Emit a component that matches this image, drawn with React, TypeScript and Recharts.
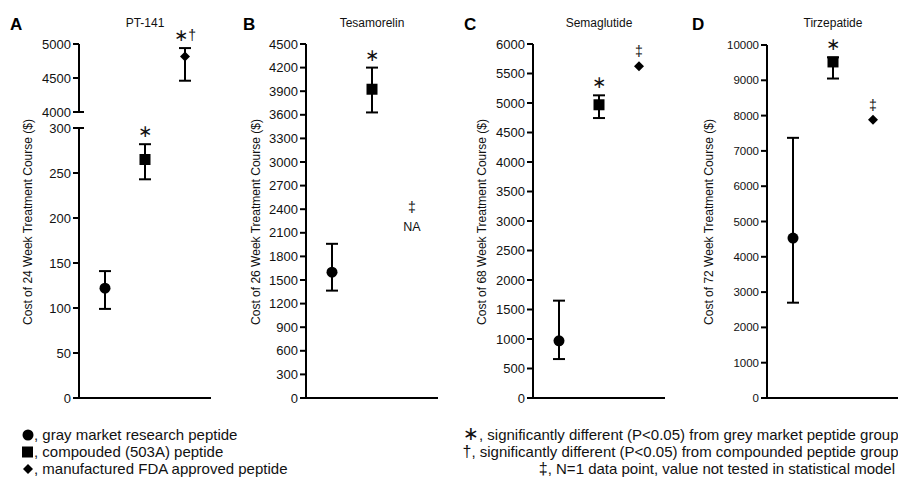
import React from "react";
import { ComposedChart, Scatter, ErrorBar, XAxis, YAxis } from "recharts";

// group positions on the x scale: gray market, compounded (503A), FDA approved
const groupX = [1, 2, 3];

// PT-141, 24 week course ($)
const ptMean = [122, 265, 4815];
const ptLow = [99, 243, 4460];
const ptHigh = [141, 282, 4940];
const ptNotes = ["", "∗", "∗†"];

// Tesamorelin, 26 week course ($) - no FDA product tested
const tesaMean = [1600, 3925, null];
const tesaLow = [1365, 3630, null];
const tesaHigh = [1960, 4200, null];
const tesaNotes = ["", "∗", "‡"];
const tesaNaLevel = 2300;

// Semaglutide, 68 week course ($)
const semaMean = [970, 4970, 5625];
const semaLow = [660, 4745, null];
const semaHigh = [1650, 5130, null];
const semaNotes = ["", "∗", "‡"];

// Tirzepatide, 72 week course ($)
const tirzMean = [4530, 9520, 7885];
const tirzLow = [2700, 9050, null];
const tirzHigh = [7370, 9650, null];
const tirzNotes = ["", "∗", "‡"];

const ptLowerTicks = [0, 50, 100, 150, 200, 250, 300];
const ptUpperTicks = [4000, 4500, 5000];
const tesaTicks = [0, 300, 600, 900, 1200, 1500, 1800, 2100, 2400, 2700, 3000, 3300, 3600, 3900, 4200, 4500];
const semaTicks = [0, 500, 1000, 1500, 2000, 2500, 3000, 3500, 4000, 4500, 5000, 5500, 6000];
const tirzTicks = [0, 1000, 2000, 3000, 4000, 5000, 6000, 7000, 8000, 9000, 10000];

function buildRows(mean: any[], low: any[], high: any[], notes: string[], naLevel?: number) {
  return groupX.map((x, i) => {
    const m = mean[i];
    const hasErr = m != null && low[i] != null && high[i] != null;
    return {
      x,
      group: i,
      mean: m,
      err: hasErr ? [m - low[i], high[i] - m] : null,
      anchor: m == null ? naLevel : hasErr ? high[i] : m,
      hasErr,
      note: notes[i],
      sub: m == null ? "NA" : "",
    };
  });
}

const ptRows = buildRows(ptMean, ptLow, ptHigh, ptNotes);
const tesaRows = buildRows(tesaMean, tesaLow, tesaHigh, tesaNotes, tesaNaLevel);
const semaRows = buildRows(semaMean, semaLow, semaHigh, semaNotes);
const tirzRows = buildRows(tirzMean, tirzLow, tirzHigh, tirzNotes);

const INK = "#000";
const TEXT = "#111";
const STAR_FONT = '"DejaVu Sans", sans-serif';

function Marker(props: any) {
  const { cx, cy, payload } = props;
  if (payload.group === 0) return <circle cx={cx} cy={cy} r={5.5} fill={INK} />;
  if (payload.group === 1) return <rect x={cx - 5.5} y={cy - 5.5} width={11} height={11} fill={INK} />;
  return (
    <polygon
      points={`${cx},${cy - 5} ${cx + 5},${cy} ${cx},${cy + 5} ${cx - 5},${cy}`}
      fill={INK}
    />
  );
}

function Star({ size }: { size: number }) {
  return (
    <tspan fontSize={size} fontFamily={STAR_FONT} style={{ fill: TEXT }}>
      ∗
    </tspan>
  );
}

function NoteText({ x, y, text }: { x: number; y: number; text: string }) {
  return (
    <text x={x} y={y} textAnchor="middle" dominantBaseline="central" style={{ fill: TEXT }}>
      {text.split("").map((ch, i) =>
        ch === "∗" ? (
          <Star key={i} size={17} />
        ) : (
          <tspan key={i} fontSize={14} style={{ fill: TEXT }}>
            {ch}
          </tspan>
        )
      )}
    </text>
  );
}

function Note(props: any) {
  const { cx, cy, payload } = props;
  if (!payload.note) return <g />;
  // a near-zero rotation keeps the small glyphs on greyscale antialiasing
  const smooth = `rotate(0.01 ${cx} ${cy})`;
  if (payload.sub) {
    return (
      <g transform={smooth}>
        <NoteText x={cx} y={cy - 10} text={payload.note} />
        <text
          x={cx}
          y={cy + 10}
          textAnchor="middle"
          dominantBaseline="central"
          fontSize={12.5}
          style={{ fill: TEXT }}
        >
          {payload.sub}
        </text>
      </g>
    );
  }
  return (
    <g transform={smooth}>
      <NoteText x={cx} y={cy - (payload.hasErr ? 13 : 15)} text={payload.note} />
    </g>
  );
}

function Tick(props: any) {
  const { x, y, payload, fontSize, breakAt } = props;
  return (
    <g>
      <text x={x} y={y} dy="0.35em" textAnchor="end" fontSize={fontSize} style={{ fill: TEXT }}>
        {payload.value}
      </text>
      {payload.value === breakAt && (
        <line x1={x + 8} x2={x + 13} y1={y} y2={y} stroke={INK} strokeWidth={2} />
      )}
    </g>
  );
}

interface PanelProps {
  rows: any[];
  ticks: number[];
  domain: [number, number];
  axisX: number;
  top: number;
  bottom: number;
  showX: boolean;
  fontSize: number;
  breakAt?: number;
}

const YW = 78;
const PAD = 12;

function Panel({ rows, ticks, domain, axisX, top, bottom, showX, fontSize, breakAt }: PanelProps) {
  const markers = rows.filter((r) => r.mean != null);
  const notes = rows.filter((r) => r.note);
  // plot area ends at `bottom`; extra padding keeps the last tick label inside the svg
  const height = bottom + (showX ? 1 : 0) + PAD;
  return (
    <div style={{ position: "absolute", left: axisX - YW, top: 0 }}>
      <ComposedChart
        width={YW + 134}
        height={height}
        data={markers}
        margin={{ top, right: 2, bottom: PAD, left: 0 }}
      >
        <XAxis
          type="number"
          dataKey="x"
          domain={[0.35, 3.65]}
          hide={!showX}
          height={1}
          tick={false}
          tickLine={false}
          axisLine={{ stroke: INK, strokeWidth: 2 }}
        />
        <YAxis
          type="number"
          domain={domain}
          ticks={ticks}
          interval={0}
          width={YW}
          tickSize={6}
          tickLine={{ stroke: INK, strokeWidth: 2 }}
          axisLine={{ stroke: INK, strokeWidth: 2 }}
          tick={(p: any) => <Tick {...p} fontSize={fontSize} breakAt={breakAt} />}
        />
        <Scatter data={markers} dataKey="mean" shape={<Marker />} isAnimationActive={false}>
          <ErrorBar dataKey="err" direction="y" width={6} stroke={INK} strokeWidth={2} />
        </Scatter>
        <Scatter data={notes} dataKey="anchor" shape={<Note />} isAnimationActive={false} />
      </ComposedChart>
    </div>
  );
}

const titles = [
  { letter: "A", lx: 10, name: "PT-141", axisX: 79, label: "Cost of 24 Week Treatment Course ($)", labelX: 28 },
  { letter: "B", lx: 243, name: "Tesamorelin", axisX: 306, label: "Cost of 26 Week Treatment Course ($)", labelX: 256 },
  { letter: "C", lx: 464, name: "Semaglutide", axisX: 533, label: "Cost of 68 Week Treatment Course ($)", labelX: 482 },
  { letter: "D", lx: 692, name: "Tirzepatide", axisX: 767, label: "Cost of 72 Week Treatment Course ($)", labelX: 709 },
];

export default function App() {
  return (
    <div
      style={{
        position: "absolute",
        left: 0,
        top: 0,
        width: 898,
        height: 479,
        overflow: "hidden",
        background: "#fff",
        fontFamily: '"Liberation Sans", Arial, sans-serif',
      }}
    >
      {/* PT-141 has a broken axis: lower 0-300, upper 4000-5000 */}
      <Panel
        rows={ptRows.filter((r) => r.mean < 1000)}
        ticks={ptLowerTicks}
        domain={[0, 300]}
        axisX={79}
        top={128}
        bottom={398}
        showX
        fontSize={13}
        breakAt={300}
      />
      <Panel
        rows={ptRows.filter((r) => r.mean >= 1000)}
        ticks={ptUpperTicks}
        domain={[4000, 5000]}
        axisX={79}
        top={44}
        bottom={112}
        showX={false}
        fontSize={13}
        breakAt={4000}
      />
      <Panel rows={tesaRows} ticks={tesaTicks} domain={[0, 4500]} axisX={306} top={44} bottom={398} showX fontSize={13} />
      <Panel rows={semaRows} ticks={semaTicks} domain={[0, 6000]} axisX={533} top={44} bottom={398} showX fontSize={13} />
      <Panel rows={tirzRows} ticks={tirzTicks} domain={[0, 10000]} axisX={767} top={45} bottom={398} showX fontSize={11.5} />

      <svg
        width={898}
        height={479}
        style={{ position: "absolute", left: 0, top: 0, pointerEvents: "none" }}
      >
        {titles.map((t) => (
          <g key={t.letter}>
            <text x={t.lx} y={30} fontSize={17} fontWeight="bold" fill={INK}>
              {t.letter}
            </text>
            <text x={t.axisX + 66} y={23} dy="0.35em" textAnchor="middle" fontSize={12} fill={TEXT}>
              {t.name}
            </text>
            <text
              transform={`translate(${t.labelX},222) rotate(-90)`}
              textAnchor="middle"
              dy="0.35em"
              fontSize={12}
              fill={TEXT}
            >
              {t.label}
            </text>
          </g>
        ))}

        {/* symbol legend */}
        <circle cx={28} cy={435} r={5.5} fill={INK} />
        <rect x={22} y={446.5} width={11} height={11} fill={INK} />
        <polygon points="28,464 33,469 28,474 23,469" fill={INK} />
        <g fontSize={15} fill={TEXT}>
          <text x={34} y={435} dy="0.35em">, gray market research peptide</text>
          <text x={34} y={452} dy="0.35em">, compouded (503A) peptide</text>
          <text x={34} y={469} dy="0.35em">, manufactured FDA approved peptide</text>
        </g>

        {/* significance legend */}
        <g fontSize={15} fill={TEXT} textAnchor="end">
          <text x={898.5} y={435} dy="0.35em">
            <Star size={19} />, significantly different (P&lt;0.05) from grey market peptide group
          </text>
          <text x={898.5} y={452} dy="0.35em">
            <tspan fontSize={16}>†</tspan>, significantly different (P&lt;0.05) from compounded peptide group
          </text>
          <text x={895} y={469} dy="0.35em">
            <tspan fontSize={16}>‡</tspan>, N=1 data point, value not tested in statistical model
          </text>
        </g>
      </svg>
    </div>
  );
}
